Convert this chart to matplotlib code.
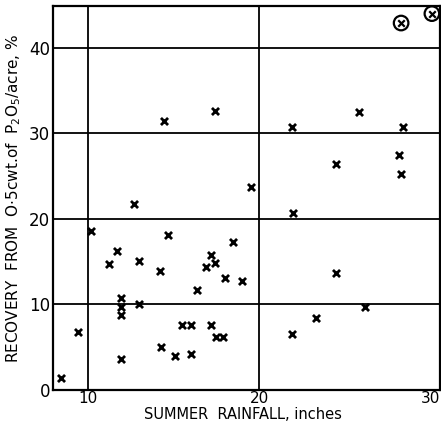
import matplotlib
matplotlib.use('Agg')
import matplotlib.pyplot as plt

### DATA

rain = [8.4, 9.4, 10.2, 12.7, 14.7, 18.5, 11.7, 11.2, 13.0, 14.2,
        17.2, 17.4, 16.9, 18.0, 19.0, 16.4, 11.95, 11.95, 11.95, 13.0,
        15.5, 16.0, 17.2, 17.5, 17.9, 14.25, 15.1, 16.0, 11.95,
        14.45, 17.4, 19.5,
        21.95, 25.85, 28.4, 24.5, 28.2, 28.3,
        22.0, 24.5, 26.2, 23.3, 21.9]
recovery = [1.4, 6.8, 18.6, 21.8, 18.1, 17.3, 16.3, 14.7, 15.1, 13.9,
            15.8, 14.8, 14.4, 13.1, 12.8, 11.7, 10.7, 9.7, 8.8, 10.1,
            7.6, 7.6, 7.6, 6.2, 6.2, 5.0, 4.0, 4.2, 3.6,
            31.5, 32.6, 23.7,
            30.8, 32.5, 30.8, 26.4, 27.5, 25.2,
            20.7, 13.7, 9.7, 8.4, 6.5]

# the two ringed points at the top right
ring_rain = [28.3, 30.1]
ring_recovery = [42.9, 44.0]

xgrid = [10, 20]
ygrid = [10, 20, 30, 40]

### PLOT

fig = plt.figure(figsize=(4.41, 4.23), dpi=100)
ax = fig.add_axes([0.120, 0.078, 0.878, 0.908])

for x in xgrid:
    ax.axvline(x, color='black', lw=1.3, zorder=1)
for y in ygrid:
    ax.axhline(y, color='black', lw=1.3, zorder=1)

ax.scatter(rain, recovery, marker='x', s=26, color='black', linewidths=2.0, zorder=3)
ax.scatter(ring_rain, ring_recovery, marker='x', s=22, color='black', linewidths=1.6, zorder=3)
ax.scatter(ring_rain, ring_recovery, marker='o', s=110, facecolors='none',
           edgecolors='black', linewidths=1.6, zorder=3, clip_on=False)

ax.set_xlim(7.95, 30.58)
ax.set_ylim(0, 44.9)
ax.set_xticks([10, 20, 30])
ax.set_yticks([0, 10, 20, 30, 40])
ax.tick_params(axis='x', length=0, labelsize=11, pad=1)
ax.tick_params(axis='y', length=0, labelsize=12, pad=2)

for s in ax.spines.values():
    s.set_linewidth(1.6)

ax.set_xlabel('SUMMER  RAINFALL, inches', fontsize=10.5, labelpad=0)
ax.xaxis.set_label_coords(0.49, -0.045, transform=ax.transAxes)
ax.xaxis.label.set_va('top')
ax.set_ylabel(r'RECOVERY  FROM  O$\cdot$5cwt.of  P$_2$O$_5$/acre, %', fontsize=11, labelpad=4)

fig.savefig('out.png', dpi=100)
